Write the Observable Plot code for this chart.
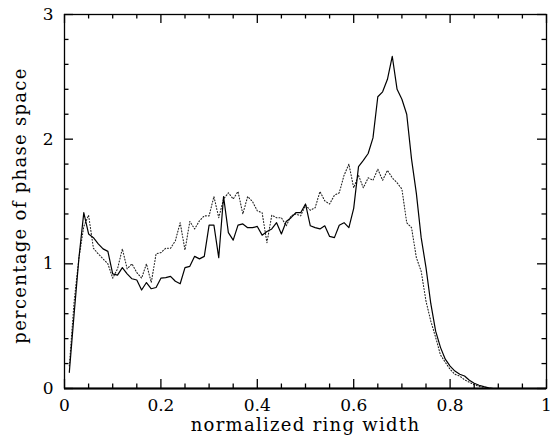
<!DOCTYPE html>
<html><head><meta charset="utf-8">
<script src="https://cdn.jsdelivr.net/npm/d3@7"></script>
<script src="https://cdn.jsdelivr.net/npm/@observablehq/plot@0.6"></script>
<style>body{margin:0;background:#fff}</style>
</head><body><div id="chart"></div>
<script>
const ringWidth = [0.01,0.02,0.03,0.04,0.05,0.06,0.07,0.08,0.09,0.10,
  0.11,0.12,0.13,0.14,0.15,0.16,0.17,0.18,0.19,0.20,
  0.21,0.22,0.23,0.24,0.25,0.26,0.27,0.28,0.29,0.30,
  0.31,0.32,0.33,0.34,0.35,0.36,0.37,0.38,0.39,0.40,
  0.41,0.42,0.43,0.44,0.45,0.46,0.47,0.48,0.49,0.50,
  0.51,0.52,0.53,0.54,0.55,0.56,0.57,0.58,0.59,0.60,
  0.61,0.62,0.63,0.64,0.65,0.66,0.67,0.68,0.69,0.70,
  0.71,0.72,0.73,0.74,0.75,0.76,0.77,0.78,0.79,0.80,
  0.81,0.82,0.83,0.84,0.85,0.86,0.87,0.88,0.89];
const solidPct = [0.13,0.60,1.05,1.41,1.24,1.21,1.16,1.12,1.10,0.92,
  0.91,0.97,0.92,0.88,0.87,0.79,0.85,0.80,0.81,0.885,
  0.89,0.90,0.86,0.84,0.97,0.98,1.06,1.04,1.06,1.31,
  1.31,1.05,1.54,1.25,1.19,1.31,1.32,1.29,1.29,1.30,
  1.23,1.26,1.28,1.33,1.24,1.34,1.37,1.41,1.41,1.48,
  1.305,1.29,1.28,1.305,1.22,1.21,1.31,1.33,1.29,1.445,
  1.78,1.83,1.885,2.01,2.34,2.38,2.48,2.665,2.40,2.32,
  2.20,1.84,1.565,1.21,0.97,0.68,0.46,0.33,0.235,0.18,
  0.14,0.114,0.10,0.066,0.042,0.026,0.015,0.005,0];
const dottedPct = [0.18,0.70,1.05,1.30,1.39,1.125,1.08,1.04,1.00,0.885,
  0.96,1.12,0.96,1.00,0.93,0.885,1.00,0.85,1.08,1.09,
  1.125,1.125,1.185,1.33,1.11,1.34,1.28,1.345,1.385,1.385,
  1.54,1.37,1.52,1.57,1.52,1.58,1.40,1.54,1.50,1.425,
  1.41,1.17,1.39,1.37,1.37,1.305,1.385,1.40,1.385,1.47,
  1.43,1.45,1.58,1.505,1.48,1.55,1.57,1.71,1.80,1.61,
  1.71,1.61,1.69,1.67,1.76,1.67,1.75,1.69,1.65,1.60,
  1.33,1.29,1.05,0.94,0.70,0.54,0.41,0.27,0.21,0.154,
  0.114,0.10,0.07,0.05,0.03,0.017,0.008,0,0];
const xMajorTicks = [0,0.2,0.4,0.6,0.8,1];
const xMinorTicks = [0.05,0.1,0.15,0.25,0.3,0.35,0.45,0.5,0.55,0.65,0.7,0.75,0.85,0.9,0.95];
const yMajorTicks = [0,1,2,3];
const yMinorTicks = [0.2,0.4,0.6,0.8,1.2,1.4,1.6,1.8,2.2,2.4,2.6,2.8];
const xTitle = "normalized ring width";
const yTitle = "percentage of phase space";

const solid = ringWidth.map((x, i) => ({x, y: solidPct[i]}));
const dotted = ringWidth.map((x, i) => ({x, y: dottedPct[i]}));

// frame is 482 x 374 px; ticks are drawn inward (major 9px, minor 4.5px)
const tickStyle = {stroke: "#000", strokeWidth: 1.3};
const chart = Plot.plot({
  width: 554, height: 438,
  marginLeft: 64, marginRight: 8, marginTop: 14, marginBottom: 50,
  style: {fontFamily: "DejaVu Serif", fontSize: "17px", color: "black", background: "white"},
  x: {domain: [0, 1], axis: null},
  y: {domain: [0, 3], axis: null},
  marks: [
    Plot.line(dotted, {x: "x", y: "y", stroke: "#222", strokeWidth: 1.1, strokeDasharray: "1,2"}),
    Plot.line(solid, {x: "x", y: "y", stroke: "black", strokeWidth: 1.2}),
    Plot.ruleX(xMajorTicks, {...tickStyle, insetTop: 365}),
    Plot.ruleX(xMinorTicks, {...tickStyle, insetTop: 369.5}),
    Plot.ruleX(xMajorTicks, {...tickStyle, insetBottom: 365}),
    Plot.ruleX(xMinorTicks, {...tickStyle, insetBottom: 369.5}),
    Plot.ruleY(yMajorTicks, {...tickStyle, insetRight: 473}),
    Plot.ruleY(yMinorTicks, {...tickStyle, insetRight: 477.5}),
    Plot.ruleY(yMajorTicks, {...tickStyle, insetLeft: 473}),
    Plot.ruleY(yMinorTicks, {...tickStyle, insetLeft: 477.5}),
    Plot.frame({strokeWidth: 1.3}),
    Plot.ruleY([0], {strokeWidth: 2}),
    Plot.text(xMajorTicks, {x: d => d, text: d => String(d), frameAnchor: "bottom", lineAnchor: "top", dy: 10, fontSize: 17}),
    Plot.text(yMajorTicks, {y: d => d, text: d => String(d), frameAnchor: "left", textAnchor: "end", dx: -11, fontSize: 17}),
    Plot.text([xTitle], {text: d => d, frameAnchor: "bottom", lineAnchor: "middle", textAnchor: "middle", dy: 37, fontSize: 18}),
    Plot.text([yTitle], {text: d => d, frameAnchor: "left", rotate: -90, textAnchor: "middle", lineAnchor: "middle", dx: -44, dy: 4, fontSize: 18})
  ]
});
chart.querySelectorAll("text").forEach(t => {
  if (t.textContent === xTitle || t.textContent === yTitle) t.setAttribute("letter-spacing", "1.3");
});
document.getElementById("chart").append(chart);
</script>
</body></html>
